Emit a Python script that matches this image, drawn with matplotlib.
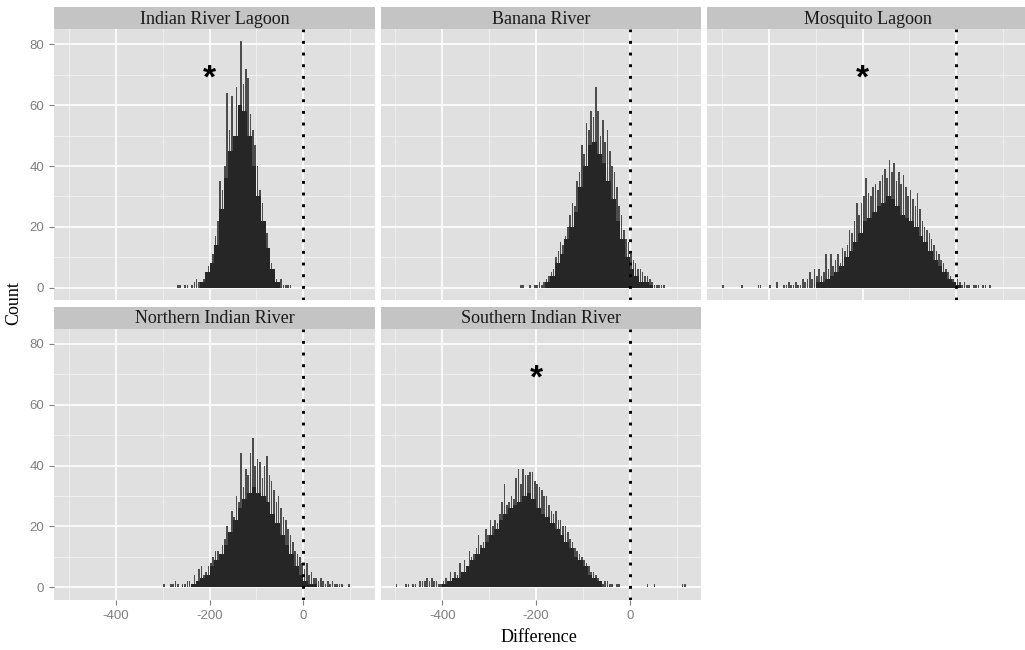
import numpy as np
import matplotlib
matplotlib.use("Agg")
import matplotlib.pyplot as plt

# facet titles, in ggplot facet order
panel_titles = ["Indian River Lagoon", "Banana River", "Mosquito Lagoon",
                "Northern Indian River", "Southern Indian River"]

# histogram counts
# "peak" = tallest bar seen in each 5-unit bin, "core" = solid body per 10-unit bin
irl_peak_start = -275
irl_peak = [0, 1, 1, 0, 1, 1, 0, 1, 2, 3,
            2, 1, 3, 5, 7, 8, 11, 17, 22, 35,
            32, 40, 64, 52, 63, 50, 66, 60, 81, 67,
            72, 69, 57, 52, 47, 40, 32, 28, 20, 18,
            12, 8, 6, 3, 2, 3, 1, 1, 1, 1]
irl_core_start = -220
irl_core = [2, 5, 8, 14, 26, 36, 45, 50, 60, 58, 50, 40, 30, 22, 13, 6, 2]

br_peak_start = -235
br_peak = [1, 1, 0, 0, 1, 0, 1, 1, 2, 1,
           2, 3, 4, 5, 6, 10, 12, 15, 14, 17,
           20, 24, 28, 27, 35, 38, 47, 44, 54, 52,
           58, 56, 66, 58, 50, 55, 48, 52, 45, 40,
           38, 33, 27, 24, 19, 16, 15, 11, 9, 8,
           6, 6, 5, 4, 4, 3, 2, 1, 1, 1,
           1, 1]
br_core_start = -180
br_core = [2, 4, 8, 11, 16, 20, 25, 33, 40, 47, 48, 44, 41, 35, 29, 22,
           16, 10, 6, 4, 2, 2, 1]

ml_peak_start = -500
ml_peak = [1, 0, 0, 0, 0, 0, 0, 0, 1, 0,
           0, 0, 0, 0, 0, 1, 1, 0, 0, 0,
           1, 0, 0, 2, 0, 0, 1, 1, 2, 1,
           1, 2, 1, 1, 3, 2, 3, 5, 3, 6,
           4, 6, 4, 5, 11, 6, 11, 7, 9, 11,
           8, 13, 12, 14, 19, 18, 22, 28, 24, 28,
           30, 36, 31, 30, 33, 34, 32, 35, 37, 39,
           36, 42, 38, 41, 35, 38, 34, 37, 33, 30,
           32, 29, 27, 31, 26, 22, 20, 19, 18, 16,
           14, 12, 11, 9, 8, 6, 5, 4, 3, 2,
           3, 2, 1, 2, 1, 1, 0, 1, 1, 1,
           0, 1, 1, 0, 1]
ml_core_start = -300
ml_core = [2, 2, 3, 4, 5, 7, 10, 12, 15, 18, 22, 23, 25, 27, 28, 30,
           29, 27, 24, 23, 22, 20, 17, 15, 12, 9, 7, 5, 3, 2, 1]

nir_peak_start = -300
nir_peak = [1, 0, 0, 1, 1, 2, 1, 0, 1, 1,
            2, 2, 1, 4, 2, 6, 7, 4, 5, 7,
            8, 10, 12, 12, 11, 14, 16, 20, 18, 25,
            23, 30, 28, 44, 33, 39, 37, 44, 49, 40,
            42, 41, 36, 40, 43, 37, 35, 32, 28, 30,
            26, 23, 22, 19, 17, 15, 12, 11, 10, 8,
            6, 8, 4, 5, 3, 3, 2, 3, 2, 1,
            2, 1, 2, 1, 1, 1, 1, 0, 0, 1]
nir_core_start = -240
nir_core = [1, 2, 3, 4, 7, 9, 11, 14, 18, 22, 26, 29, 31, 33, 31, 30,
            28, 24, 21, 17, 14, 11, 7, 4, 2, 1, 1]

sir_peak_start = -500
sir_peak = [1, 0, 0, 0, 1, 1, 0, 1, 1, 0,
            2, 2, 2, 3, 2, 3, 2, 2, 1, 1,
            2, 3, 2, 5, 3, 5, 4, 8, 5, 9,
            7, 12, 10, 11, 13, 17, 14, 15, 19, 17,
            22, 20, 22, 21, 24, 28, 34, 27, 28, 30,
            29, 36, 39, 34, 39, 37, 37, 38, 38, 35,
            34, 33, 32, 30, 30, 27, 25, 24, 25, 22,
            22, 20, 20, 18, 16, 15, 13, 12, 11, 10,
            9, 8, 7, 5, 5, 4, 3, 2, 1, 2,
            2, 1, 1, 0, 1, 1, 0, 0, 0, 0,
            0, 0, 0, 0, 0, 0, 0, 1, 0, 0,
            1, 0, 0, 0, 0, 0, 0, 0, 0, 0,
            0, 0, 1, 1]
sir_core_start = -400
sir_core = [1, 2, 3, 3, 5, 7, 9, 11, 13, 15, 17, 19, 22, 24, 26, 27, 28,
            30, 31, 29, 26, 24, 23, 21, 19, 17, 15, 13, 10, 9, 7, 4, 3, 2]

peak_starts = [irl_peak_start, br_peak_start, ml_peak_start, nir_peak_start, sir_peak_start]
peaks = [irl_peak, br_peak, ml_peak, nir_peak, sir_peak]
core_starts = [irl_core_start, br_core_start, ml_core_start, nir_core_start, sir_core_start]
cores = [irl_core, br_core, ml_core, nir_core, sir_core]

# significance marks
star_panels = [0, 2, 4]
star_x = -200
star_y = 72

x_ticks = [-400, -200, 0]
x_tick_labels = ["-400", "-200", "0"]
y_ticks = [0, 20, 40, 60, 80]

serif = ["Liberation Serif", "DejaVu Serif"]
sans = ["Liberation Sans", "DejaVu Sans"]

W, H = 1025, 650
fig = plt.figure(figsize=(W / 100, H / 100), dpi=100)

panel_lefts = [54, 380.5, 707]
panel_width = 321
row_tops = [29, 328.5]
panel_height = 271
strip_height = 22

bg = "#e0e0e0"
strip_bg = "#c4c4c4"
tick_grey = "#7f7f7f"

for i, title in enumerate(panel_titles):
    row, col = divmod(i, 3)
    left = panel_lefts[col]
    top = row_tops[row]

    ax = fig.add_axes([left / W, 1 - (top + panel_height) / H,
                       panel_width / W, panel_height / H])
    ax.set_facecolor(bg)
    for s in ax.spines.values():
        s.set_visible(False)
    ax.set_xlim(-532, 153)
    ax.set_ylim(-4.05, 85.05)

    # grid: minor lines first, then major
    for xv in [-500, -300, -100, 100]:
        ax.axvline(xv, color="#efefef", lw=0.7, zorder=0)
    for yv in [10, 30, 50, 70]:
        ax.axhline(yv, color="#efefef", lw=0.7, zorder=0)
    for xv in x_ticks:
        ax.axvline(xv, color="white", lw=1.2, zorder=0.5)
    for yv in y_ticks:
        ax.axhline(yv, color="white", lw=1.2, zorder=0.5)

    # histogram: thin spikes for the ragged top, solid body underneath
    pk = peaks[i]
    pk_mid = np.arange(len(pk)) * 5 + peak_starts[i] + 2.5
    ax.bar(pk_mid, pk, width=3.4, align="center", color="#4d4d4d", linewidth=0, zorder=2)
    cr = cores[i]
    cr_edges = np.arange(len(cr)) * 10 + core_starts[i]
    ax.bar(cr_edges, cr, width=10, align="edge", color="#262626", linewidth=0, zorder=3)

    ax.axvline(0, color="black", lw=2.1, linestyle=(0, (1, 3)), zorder=4)

    if i in star_panels:
        ax.annotate("*", xy=(star_x, star_y), xytext=(0, -0.58 * 24),
                    textcoords="offset points", ha="center", va="baseline",
                    fontsize=24, fontweight="bold", family=sans, color="black")

    ax.set_xticks(x_ticks)
    ax.set_yticks(y_ticks)
    ax.tick_params(axis="both", colors=tick_grey, labelcolor=tick_grey,
                   labelsize=9.5, length=3.6, width=0.8)
    ax.tick_params(axis="y", pad=3.5)
    ax.tick_params(axis="x", pad=4)
    if col == 0:
        ax.set_yticklabels([str(v) for v in y_ticks], family=sans)
    else:
        ax.tick_params(axis="y", left=False, labelleft=False)
    if row == 1:
        ax.set_xticklabels(x_tick_labels, family=sans)
    else:
        ax.tick_params(axis="x", bottom=False, labelbottom=False)

    # facet strip
    sax = fig.add_axes([left / W, 1 - top / H, panel_width / W, strip_height / H])
    sax.set_facecolor(strip_bg)
    sax.set_xticks([])
    sax.set_yticks([])
    for s in sax.spines.values():
        s.set_visible(False)
    sax.text(0.5, 0.45, title, ha="center", va="center", fontsize=13,
             family=serif, color="#1a1a1a", transform=sax.transAxes)

fig.text(13.5 / W, 1 - 303 / H, "Count", rotation=90, ha="center", va="center",
         fontsize=13, family=serif)
fig.text(539 / W, 1 - 637 / H, "Difference", ha="center", va="center",
         fontsize=13, family=serif)

fig.savefig("out.png", dpi=100, facecolor="white")
